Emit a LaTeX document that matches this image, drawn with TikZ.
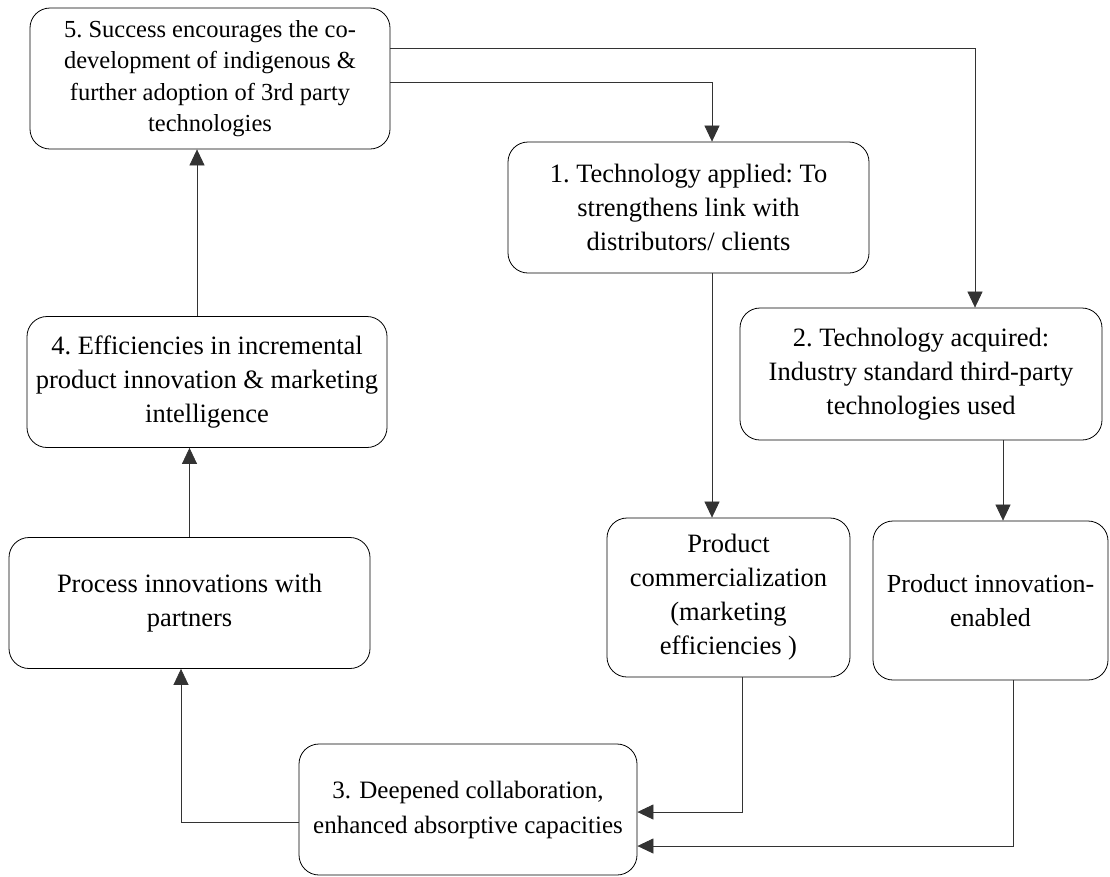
\documentclass[tikz,border=0pt]{standalone}
\usepackage{fontspec}
\setmainfont{Liberation Serif}
\usepackage{tikz}
\usetikzlibrary{positioning,calc,arrows.meta}

\begin{document}
\begin{tikzpicture}[x=1pt,y=-1pt,
    stagebox/.style={draw, rounded corners=20pt, line width=0.8pt, inner sep=0pt,
        align=center, font=\fontsize{26.5}{34}\selectfont\frenchspacing},
    smalltext/.style={font=\fontsize{24.5}{#1}\selectfont\frenchspacing},
    flow/.style={draw=black!80, line width=0.7pt, -{Triangle[width=15pt,length=16pt]}}]
    \useasboundingbox (0,0) rectangle (1110,876);

    \node[stagebox, smalltext=31.5, minimum width=360pt, minimum height=141pt] (succ) at (210,78.5)
        {5. Success encourages the co-\\development of indigenous \&\\further adoption of 3rd party\\technologies};
    \node[stagebox, minimum width=361pt, minimum height=131pt] (applied) at (688.5,207.5)
        {1. Technology applied: To\\strengthens link with\\distributors/ clients};
    \node[stagebox, minimum width=362pt, minimum height=132pt] (acquired) at (921,374)
        {2. Technology acquired:\\Industry standard third-party\\technologies used};
    \node[stagebox, minimum width=243pt, minimum height=159pt] (comm) at (728.5,597.5)
        {Product\\commercialization\\(marketing\\efficiencies )};
    \node[stagebox, font=\fontsize{26}{34}\selectfont, minimum width=235pt, minimum height=159pt] (enabled) at (990.5,600.5)
        {Product innovation-\\enabled};
    \node[stagebox, font=\fontsize{25}{35}\selectfont, minimum width=338pt, minimum height=131pt] (collab) at (468,809.5)
        {3. Deepened collaboration,\\enhanced absorptive capacities};
    \node[stagebox, minimum width=360pt, minimum height=131pt] (effic) at (207,382)
        {4. Efficiencies in incremental\\product innovation \& marketing\\intelligence};
    \node[stagebox, minimum width=361pt, minimum height=131pt] (proc) at (189.5,603)
        {Process innovations with\\partners};

    % top loop back into 1 and 2
    \draw[flow] ([yshift=30pt]succ.east) -| ([xshift=54pt]acquired.north);
    \draw[flow] ([yshift=-3.5pt]succ.east) -| ([xshift=23.5pt]applied.north);
    \draw[flow] ([xshift=23.5pt]applied.south) -- ([xshift=23.5pt]applied.south |- comm.north);
    \draw[flow] ([xshift=82pt]acquired.south) -- ([xshift=82pt]acquired.south |- enabled.north);

    % into 3
    \draw[flow] ([xshift=13.5pt]comm.south) |- ([yshift=-2.5pt]collab.east);
    \draw[flow] ([xshift=22.5pt]enabled.south) |- ([yshift=-36.5pt]collab.east);

    % left column upwards
    \draw[flow] ([yshift=-12.5pt]collab.west) -| ([xshift=-8.5pt]proc.south);
    \draw[flow] (proc.north) -- (proc.north |- effic.south);
    \draw[flow] ([xshift=-10pt]effic.north) -- ([xshift=-10pt]effic.north |- succ.south);
\end{tikzpicture}
\end{document}
